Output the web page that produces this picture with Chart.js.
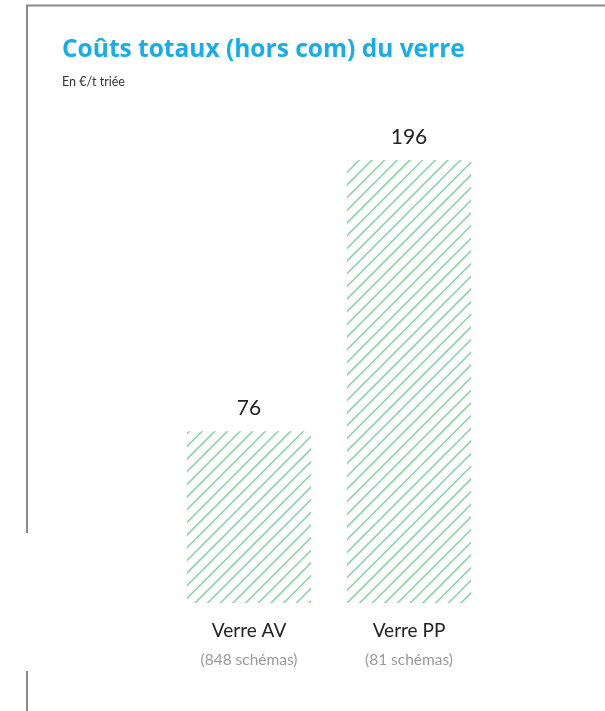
<!DOCTYPE html>
<html lang="fr">
<head>
<meta charset="utf-8">
<title>Coûts totaux (hors com) du verre</title>
<script src="https://cdn.jsdelivr.net/npm/chart.js@4.4.1/dist/chart.umd.min.js"></script>
<style>
  html, body { margin: 0; padding: 0; background: #ffffff; }
  #wrap { width: 605px; height: 711px; position: relative; }
  canvas { display: block; }
</style>
</head>
<body>
<div id="wrap"><canvas id="chart" width="605" height="711"></canvas></div>
<script>
// Data
const categories = ['Verre AV', 'Verre PP'];
const schemaCounts = ['(848 schémas)', '(81 schémas)'];
const costs = [76, 196];
const titleText = 'Coûts totaux (hors com) du verre';
const subtitleText = 'En €/t triée';

// Diagonal hatch fill for the bars: lines x + y = const, three per tile
function makeHatch(color) {
  const size = 38;
  const c = document.createElement('canvas');
  c.width = size; c.height = size;
  const g = c.getContext('2d');
  g.strokeStyle = color;
  g.lineWidth = 1.6;
  const step = size / 3;
  for (let k = -1; k <= 7; k++) {
    const cst = k * step;
    g.beginPath();
    g.moveTo(cst - size - 2, size + 2);
    g.lineTo(cst + 2, -2);
    g.stroke();
  }
  return g.createPattern(c, 'repeat');
}

const hatch = makeHatch('#8fd3a9');

// Frame, headings, value and category labels
const decorations = {
  id: 'decorations',
  afterDraw(chart) {
    const ctx = chart.ctx;
    const xs = chart.scales.x;
    const ys = chart.scales.y;
    ctx.save();

    // frame
    ctx.strokeStyle = '#8a8a8a';
    ctx.lineWidth = 2;
    ctx.beginPath();
    ctx.moveTo(27, 533);
    ctx.lineTo(27, 5.5);
    ctx.lineTo(605, 5.5);
    ctx.moveTo(27, 671);
    ctx.lineTo(27, 711);
    ctx.stroke();

    // title
    ctx.textAlign = 'left';
    ctx.textBaseline = 'alphabetic';
    ctx.fillStyle = '#17ade8';
    ctx.font = 'bold 24.5px "Open Sans", Lato, sans-serif';
    ctx.fillText(titleText, 62, 57);

    // subtitle
    ctx.fillStyle = '#333333';
    ctx.font = '12.5px Lato, "Open Sans", sans-serif';
    ctx.fillText(subtitleText, 62, 86);

    // value labels above bars
    ctx.textAlign = 'center';
    ctx.fillStyle = '#222222';
    ctx.font = '21px Lato, "Open Sans", sans-serif';
    costs.forEach((v, i) => {
      const x = xs.getPixelForValue(i);
      const y = ys.getPixelForValue(v);
      ctx.fillText(String(v), x, y - 16);
    });

    // category labels below bars
    categories.forEach((label, i) => {
      const x = xs.getPixelForValue(i);
      ctx.fillStyle = '#222222';
      ctx.font = '19px Lato, "Open Sans", sans-serif';
      ctx.fillText(label, x, 637);
      ctx.fillStyle = '#9a9a9a';
      ctx.font = '15.5px Lato, "Open Sans", sans-serif';
      ctx.fillText(schemaCounts[i], x, 665);
    });

    ctx.restore();
  }
};

new Chart(document.getElementById('chart'), {
  type: 'bar',
  data: {
    labels: categories,
    datasets: [{
      data: costs,
      backgroundColor: hatch,
      borderWidth: 0,
      barPercentage: 0.775,
      categoryPercentage: 1
    }]
  },
  options: {
    responsive: false,
    animation: false,
    layout: { padding: { left: 169, right: 116, top: 151, bottom: 108 } },
    plugins: {
      legend: { display: false },
      tooltip: { enabled: false },
      title: { display: false }
    },
    scales: {
      x: { display: false, offset: true },
      y: { display: false, min: 0, max: 200 }
    }
  },
  plugins: [decorations]
});
</script>
</body>
</html>
